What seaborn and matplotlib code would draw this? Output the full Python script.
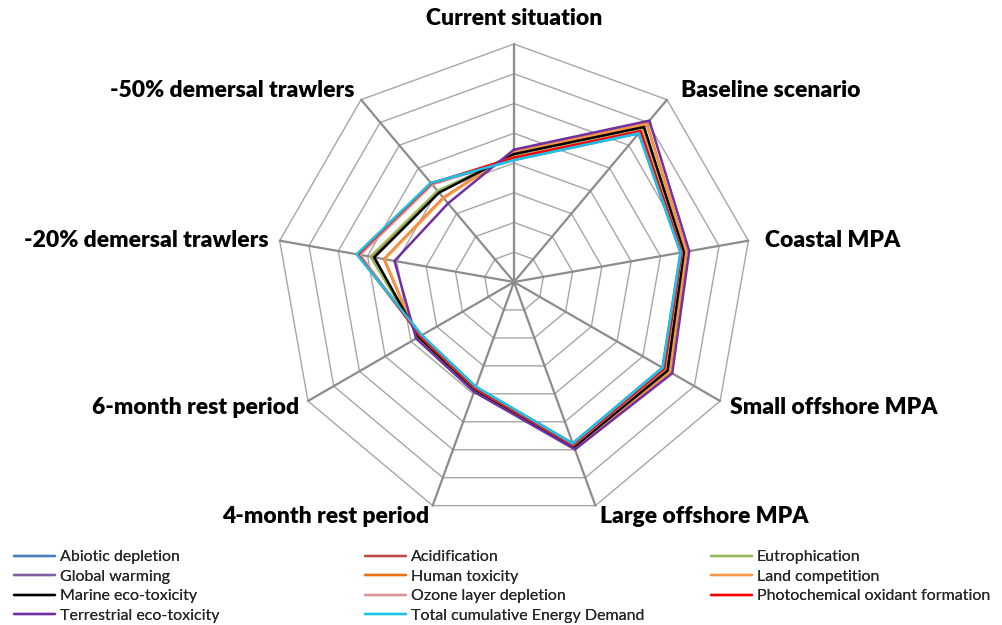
"""
Radar chart of impact categories per fishery scenario.
"""

import numpy as np
import pandas as pd
import matplotlib.pyplot as plt
import seaborn as sns
from matplotlib.lines import Line2D

scenarios = ['Current situation', 'Baseline scenario', 'Coastal MPA', 'Small offshore MPA',
             'Large offshore MPA', '4-month rest period', '6-month rest period',
             '-20% demersal trawlers', '-50% demersal trawlers']

categories = ['Abiotic depletion', 'Acidification', 'Eutrophication', 'Global warming',
              'Human toxicity', 'Land competition', 'Marine eco-toxicity',
              'Ozone layer depletion', 'Photochemical oxidant formation',
              'Terrestrial eco-toxicity', 'Total cumulative Energy Demand']

colors = ['#4A7EBB', '#BE4B48', '#98B954', '#7D60A0', '#E8700F', '#F79646', '#000000',
          '#D99694', '#FF0000', '#7030A0', '#1CC3E6']

abiotic = [4.10, 6.52, 5.68, 5.76, 5.77, 3.75, 3.58, 5.36, 4.34]
acidification = [4.28, 6.78, 5.78, 5.94, 5.88, 3.84, 3.69, 4.85, 3.97]
eutrophication = [4.25, 6.75, 5.77, 5.92, 5.87, 3.83, 3.68, 4.90, 4.00]
global_warming = [4.12, 6.56, 5.70, 5.79, 5.79, 3.76, 3.60, 5.30, 4.30]
human_tox = [4.37, 6.95, 5.89, 6.05, 5.95, 3.90, 3.75, 4.44, 3.70]
land_comp = [4.36, 6.93, 5.88, 6.04, 5.93, 3.89, 3.74, 4.42, 3.68]
marine_tox = [4.30, 6.80, 5.80, 5.96, 5.90, 3.85, 3.70, 4.77, 3.92]
ozone = [4.20, 6.65, 5.73, 5.85, 5.84, 3.81, 3.64, 5.25, 4.28]
photochem = [4.18, 6.62, 5.72, 5.83, 5.82, 3.80, 3.63, 5.33, 4.33]
terrestrial = [4.45, 7.08, 5.98, 6.14, 5.99, 3.93, 3.80, 4.08, 3.45]
energy = [4.10, 6.53, 5.69, 5.77, 5.78, 3.75, 3.58, 5.37, 4.35]

values = [abiotic, acidification, eutrophication, global_warming, human_tox, land_comp,
          marine_tox, ozone, photochem, terrestrial, energy]

n = len(scenarios)
angles = np.arange(n) * 2 * np.pi / n
closed = np.append(angles, 2 * np.pi)

rows = []
for cat, vals in zip(categories, values):
    for t, v in zip(closed, vals + vals[:1]):
        rows.append({'theta': t, 'r': v, 'series': cat})
df = pd.DataFrame(rows)

sns.set_style('white')
plt.rcParams['font.family'] = ['Lato', 'DejaVu Sans']

fig = plt.figure(figsize=(10.02, 6.25), dpi=100)
ax = fig.add_axes([0.513 - 0.2375, 0.5488 - 0.3808, 0.475, 0.7616], projection='polar')
ax.set_theta_zero_location('N')
ax.set_theta_direction(-1)
ax.set_ylim(0, 8)
ax.grid(False)
ax.set_xticks([])
ax.set_yticks([])
ax.spines['polar'].set_visible(False)
ax.patch.set_visible(False)

# polygon grid like Excel
for r in range(1, 9):
    ax.plot(closed, [r] * len(closed), color='#A6A6A6', lw=1.0, clip_on=False, zorder=1)
for t in angles:
    ax.plot([t, t], [0, 8], color='#8C8C8C', lw=1.6, clip_on=False, zorder=1)

sns.lineplot(data=df, x='theta', y='r', hue='series', hue_order=categories,
             palette=colors, sort=False, estimator=None, lw=1.8, legend=False, ax=ax)
for ln in ax.get_lines():
    ln.set_clip_on(False)

offsets = [(0, 26, 'center'), (14, 9, 'left'), (17, 0, 'left'), (10, -7, 'left'),
           (5, -11, 'left'), (-3, -11, 'right'), (-9, -7, 'right'), (-11, 0, 'right'),
           (-7, 9, 'right')]
for t, name, (dx, dy, ha) in zip(angles, scenarios, offsets):
    ax.annotate(name, xy=(t, 8), xytext=(dx, dy), textcoords='offset pixels',
                ha=ha, va='center', fontsize=16.5, fontweight='heavy', color='black')

handles = [Line2D([], [], color=c, lw=1.7) for c in colors]
col_x = [14, 365, 711]
for k, x0 in enumerate(col_x):
    idx = list(range(k, len(categories), 3))
    leg = fig.legend([handles[i] for i in idx], [categories[i] for i in idx],
                     loc='upper left', bbox_to_anchor=(x0 / 1002, 1 - 550 / 625),
                     frameon=False, fontsize=11.5, handlelength=2.55, handletextpad=0.3,
                     labelspacing=0.34, borderpad=0, borderaxespad=0)
    fig.add_artist(leg)

fig.savefig('out.png', dpi=100)
